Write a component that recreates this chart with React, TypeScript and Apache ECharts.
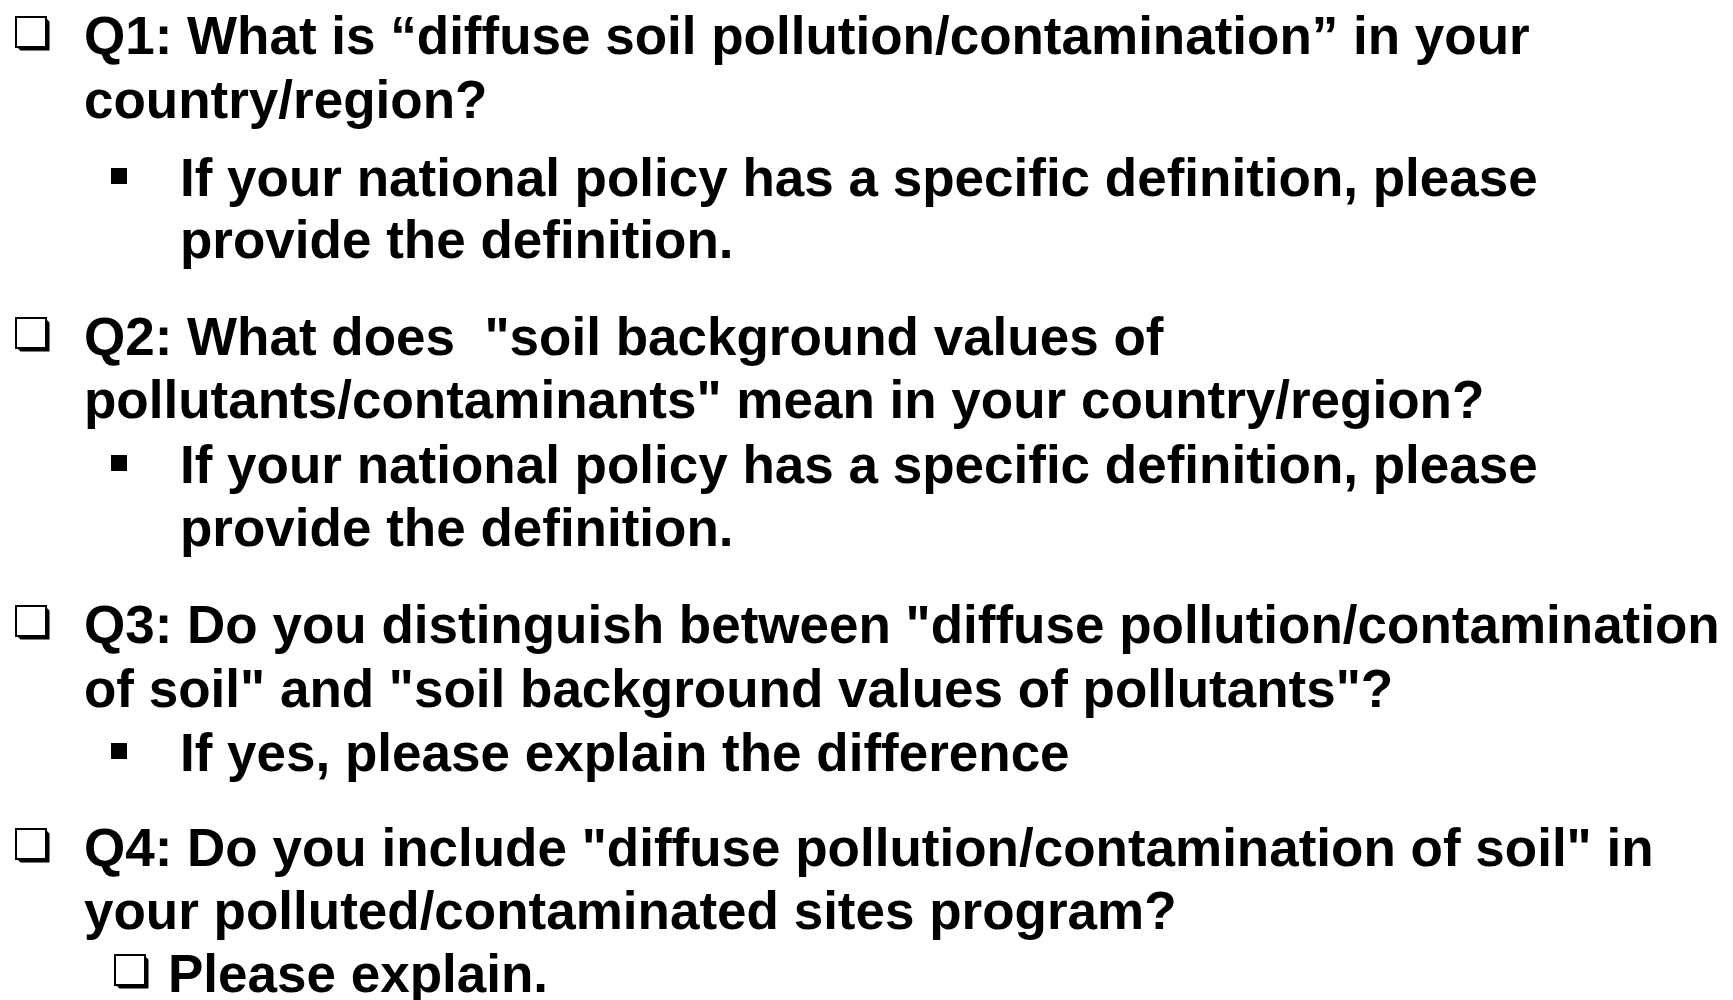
import React, { useEffect, useRef } from "react";
import * as echarts from "echarts";

// Slide content: text lines, their marker kind and nesting level
const lineTexts: string[] = [
  "Q1: What is \u201Cdiffuse soil pollution/contamination\u201D in your",
  "country/region?",
  "If your national policy has a specific definition, please",
  "provide the definition.",
  "Q2: What does  \"soil background values of",
  "pollutants/contaminants\" mean in your country/region?",
  "If your national policy has a specific definition, please",
  "provide the definition.",
  "Q3: Do you distinguish between \"diffuse pollution/contamination",
  "of soil\" and \"soil background values of pollutants\"?",
  "If yes, please explain the difference",
  "Q4: Do you include \"diffuse pollution/contamination of soil\" in",
  "your polluted/contaminated sites program?",
  "Please explain.",
];
// marker: "box" = shadowed checkbox, "square" = filled bullet, "" = continuation
const lineMarkers: string[] = ["box", "", "square", "", "box", "", "square", "", "box", "", "square", "box", "", "box"];
// level: 0 = question, 1 = sub item, 2 = sub checkbox item
const lineLevels: number[] = [0, 0, 1, 1, 0, 0, 1, 1, 0, 0, 1, 0, 0, 2];

// Layout (pixels)
const lineBaselines: number[] = [54, 118, 196, 258, 355, 418, 483, 546, 643, 707, 771, 866, 929, 992];
const textX: number[] = [84, 180, 168];
const boxX: number[] = [16, 0, 115];
const FONT_SIZE = 53;
const FONT = "Liberation Sans, Arial, Helvetica, sans-serif";

function checkbox(x: number, baseline: number) {
  const s = 30;
  const y = baseline - 37;
  const d = 3.5;
  return [
    {
      type: "polygon",
      shape: {
        points: [
          [x + s, y + 1],
          [x + s + d, y + 1 + d],
          [x + s + d, y + s + d],
          [x + 1 + d, y + s + d],
          [x + 1, y + s],
          [x + s, y + s],
        ],
      },
      style: { fill: "#000" },
    },
    {
      type: "rect",
      shape: { x: x, y: y, width: s, height: s },
      style: { fill: "#fff", stroke: "#000", lineWidth: 2 },
    },
  ];
}

function bullet(x: number, baseline: number) {
  return {
    type: "rect",
    shape: { x: x, y: baseline - 28, width: 16, height: 16 },
    style: { fill: "#000" },
  };
}

export default function App() {
  const ref = useRef<HTMLDivElement>(null);
  useEffect(() => {
    if (!ref.current) return;
    const chart = echarts.init(ref.current, null, { renderer: "svg" });
    const elements: any[] = [];
    lineTexts.forEach((t, i) => {
      const lvl = lineLevels[i];
      const base = lineBaselines[i];
      const m = lineMarkers[i];
      if (m === "box") {
        checkbox(boxX[lvl], base).forEach((e) => elements.push(e));
      } else if (m === "square") {
        elements.push(bullet(111, base));
      }
      elements.push({
        type: "text",
        x: textX[lvl],
        y: base - 18.4,
        style: {
          text: t,
          fill: "#000",
          font: `bold ${FONT_SIZE}px ${FONT}`,
          fontFamily: FONT,
          fontSize: FONT_SIZE,
          fontWeight: "bold",
          verticalAlign: "middle",
          align: "left",
        },
      });
    });
    chart.setOption({
      animation: false,
      backgroundColor: "#ffffff",
      graphic: { elements },
    });
    return () => chart.dispose();
  }, []);
  return (
    <div
      ref={ref}
      style={{ position: "fixed", left: 0, top: 0, width: 1733, height: 1000, background: "#fff" }}
    />
  );
}
